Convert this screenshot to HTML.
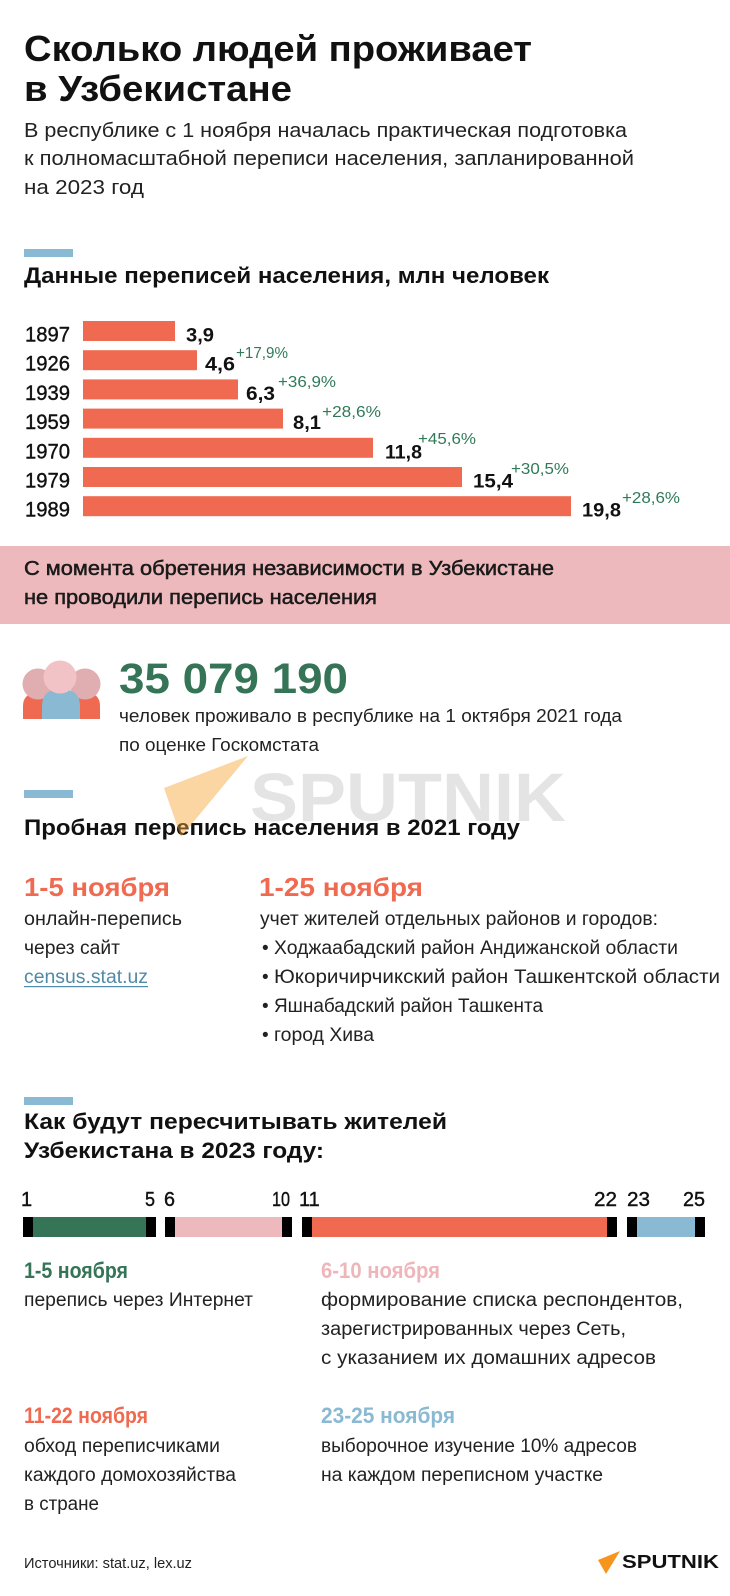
<!DOCTYPE html>
<html><head><meta charset="utf-8">
<style>
html,body{margin:0;padding:0;background:#fff;}
svg{display:block;}
text{font-family:"Liberation Sans",sans-serif;}
</style></head><body>
<svg width="730" height="1596" viewBox="0 0 730 1596" xmlns="http://www.w3.org/2000/svg">
<rect width="730" height="1596" fill="#fff"/>

<!-- Title -->
<text x="24" y="61" font-size="36" font-weight="bold" fill="#111" textLength="508" lengthAdjust="spacingAndGlyphs">Сколько людей проживает</text>
<text x="24" y="101" font-size="36" font-weight="bold" fill="#111" textLength="268" lengthAdjust="spacingAndGlyphs">в Узбекистане</text>

<g font-size="20" fill="#222">
<text x="24" y="137" textLength="603" lengthAdjust="spacingAndGlyphs">В республике с 1 ноября началась практическая подготовка</text>
<text x="24" y="165" textLength="610" lengthAdjust="spacingAndGlyphs">к полномасштабной переписи населения, запланированной</text>
<text x="24" y="194" textLength="120" lengthAdjust="spacingAndGlyphs">на 2023 год</text>
</g>

<!-- Section 1 -->
<rect x="24" y="249" width="49" height="8" fill="#8ab9d3"/>
<text x="24" y="283" font-size="22" font-weight="bold" fill="#111" textLength="525" lengthAdjust="spacingAndGlyphs">Данные переписей населения, млн человек</text>

<g fill="#ef6a50">
<rect x="83" y="321" width="92" height="20"/>
<rect x="83" y="350.2" width="114" height="20"/>
<rect x="83" y="379.4" width="155" height="20"/>
<rect x="83" y="408.6" width="200" height="20"/>
<rect x="83" y="437.8" width="290" height="20"/>
<rect x="83" y="467" width="379" height="20"/>
<rect x="83" y="496.2" width="488" height="20"/>
</g>

<g font-size="21" fill="#111" stroke="#111" stroke-width="0.4">
<text x="25" y="341.5" textLength="45" lengthAdjust="spacingAndGlyphs">1897</text>
<text x="25" y="370.7" textLength="45" lengthAdjust="spacingAndGlyphs">1926</text>
<text x="25" y="399.9" textLength="45" lengthAdjust="spacingAndGlyphs">1939</text>
<text x="25" y="429.1" textLength="45" lengthAdjust="spacingAndGlyphs">1959</text>
<text x="25" y="458.3" textLength="45" lengthAdjust="spacingAndGlyphs">1970</text>
<text x="25" y="487.5" textLength="45" lengthAdjust="spacingAndGlyphs">1979</text>
<text x="25" y="516.7" textLength="45" lengthAdjust="spacingAndGlyphs">1989</text>
</g>

<g font-size="19" font-weight="bold" fill="#111">
<text x="186" y="341.5" textLength="28" lengthAdjust="spacingAndGlyphs">3,9</text>
<text x="205" y="370.7" textLength="30" lengthAdjust="spacingAndGlyphs">4,6</text>
<text x="246" y="399.9" textLength="29" lengthAdjust="spacingAndGlyphs">6,3</text>
<text x="293" y="429.1" textLength="28" lengthAdjust="spacingAndGlyphs">8,1</text>
<text x="385" y="458.3" textLength="37" lengthAdjust="spacingAndGlyphs">11,8</text>
<text x="473" y="487.5" textLength="40" lengthAdjust="spacingAndGlyphs">15,4</text>
<text x="582" y="516.7" textLength="39" lengthAdjust="spacingAndGlyphs">19,8</text>
</g>

<g font-size="16" fill="#2f7a58">
<text x="236" y="358" textLength="52" lengthAdjust="spacingAndGlyphs">+17,9%</text>
<text x="278" y="387" textLength="58" lengthAdjust="spacingAndGlyphs">+36,9%</text>
<text x="322" y="417" textLength="59" lengthAdjust="spacingAndGlyphs">+28,6%</text>
<text x="418" y="444" textLength="58" lengthAdjust="spacingAndGlyphs">+45,6%</text>
<text x="511" y="474" textLength="58" lengthAdjust="spacingAndGlyphs">+30,5%</text>
<text x="622" y="503" textLength="58" lengthAdjust="spacingAndGlyphs">+28,6%</text>
</g>

<!-- Pink band -->
<rect x="0" y="546" width="730" height="78" fill="#edb9bc"/>
<g font-size="20" fill="#1a1a1a" stroke="#1a1a1a" stroke-width="0.5">
<text x="24" y="575" textLength="530" lengthAdjust="spacingAndGlyphs">С момента обретения независимости в Узбекистане</text>
<text x="24" y="604" textLength="353" lengthAdjust="spacingAndGlyphs">не проводили перепись населения</text>
</g>

<!-- People icon -->
<path d="M23 719 L23 706 Q23 693 38 693 L44 693 Q58 693 58 706 L58 719 Z" fill="#ef6a50"/>
<path d="M65 719 L65 706 Q65 693 80 693 L86 693 Q100 693 100 706 L100 719 Z" fill="#ef6a50"/>
<circle cx="38" cy="684" r="15.5" fill="#e0adb1"/>
<circle cx="85" cy="684" r="15.5" fill="#e0adb1"/>
<path d="M42 719 L42 706 Q42 689 61 689 Q80 689 80 706 L80 719 Z" fill="#8ab9d3"/>
<circle cx="60" cy="677" r="16.5" fill="#f2c3c6"/>

<text x="119" y="693" font-size="43" font-weight="bold" fill="#357456" textLength="229" lengthAdjust="spacingAndGlyphs">35 079 190</text>
<g font-size="18" fill="#222">
<text x="119" y="722" textLength="503" lengthAdjust="spacingAndGlyphs">человек проживало в республике на 1 октября 2021 года</text>
<text x="119" y="751" textLength="200" lengthAdjust="spacingAndGlyphs">по оценке Госкомстата</text>
</g>

<!-- Section 2 -->
<rect x="24" y="790" width="49" height="8" fill="#8ab9d3"/>
<text x="24" y="835" font-size="22" font-weight="bold" fill="#111" textLength="496" lengthAdjust="spacingAndGlyphs">Пробная перепись населения в 2021 году</text>

<!-- Watermark -->
<polygon points="164,788 248,756 181,837" fill="#f7a531" opacity="0.45"/>
<text x="250" y="821" font-size="69" font-weight="bold" fill="#000" opacity="0.1" textLength="316" lengthAdjust="spacingAndGlyphs">SPUTNIK</text>

<g font-size="26" font-weight="bold" fill="#ef6a50">
<text x="24" y="896" textLength="146" lengthAdjust="spacingAndGlyphs">1-5 ноября</text>
<text x="259" y="896" textLength="164" lengthAdjust="spacingAndGlyphs">1-25 ноября</text>
</g>
<g font-size="19" fill="#222">
<text x="24" y="925" textLength="158" lengthAdjust="spacingAndGlyphs">онлайн-перепись</text>
<text x="24" y="954" textLength="96" lengthAdjust="spacingAndGlyphs">через сайт</text>
<text x="24" y="983" fill="#4f8aa8" textLength="124" lengthAdjust="spacingAndGlyphs">census.stat.uz</text>
<text x="260" y="925" textLength="398" lengthAdjust="spacingAndGlyphs">учет жителей отдельных районов и городов:</text>
<text x="262" y="954">•</text>
<text x="274" y="954" textLength="404" lengthAdjust="spacingAndGlyphs">Ходжаабадский район Андижанской области</text>
<text x="262" y="983">•</text>
<text x="274" y="983" textLength="446" lengthAdjust="spacingAndGlyphs">Юкоричирчикский район Ташкентской области</text>
<text x="262" y="1012">•</text>
<text x="274" y="1012" textLength="269" lengthAdjust="spacingAndGlyphs">Яшнабадский район Ташкента</text>
<text x="262" y="1041">•</text>
<text x="274" y="1041" textLength="100" lengthAdjust="spacingAndGlyphs">город Хива</text>
</g>
<rect x="24" y="986" width="124" height="1.2" fill="#4f8aa8"/>

<!-- Section 3 -->
<rect x="24" y="1097" width="49" height="8" fill="#8ab9d3"/>
<g font-size="22" font-weight="bold" fill="#111">
<text x="24" y="1129" textLength="423" lengthAdjust="spacingAndGlyphs">Как будут пересчитывать жителей</text>
<text x="24" y="1158" textLength="300" lengthAdjust="spacingAndGlyphs">Узбекистана в 2023 году:</text>
</g>

<g font-size="20" fill="#111" stroke="#111" stroke-width="0.4">
<text x="21" y="1206">1</text>
<text x="145" y="1206" textLength="10" lengthAdjust="spacingAndGlyphs">5</text>
<text x="164" y="1206" textLength="11" lengthAdjust="spacingAndGlyphs">6</text>
<text x="272" y="1206" textLength="18" lengthAdjust="spacingAndGlyphs">10</text>
<text x="299" y="1206">11</text>
<text x="594" y="1206" textLength="23" lengthAdjust="spacingAndGlyphs">22</text>
<text x="627" y="1206" textLength="23" lengthAdjust="spacingAndGlyphs">23</text>
<text x="683" y="1206" textLength="22" lengthAdjust="spacingAndGlyphs">25</text>
</g>

<g>
<rect x="23" y="1217" width="133" height="20" fill="#000"/>
<rect x="33" y="1217" width="113" height="20" fill="#357456"/>
<rect x="165" y="1217" width="127" height="20" fill="#000"/>
<rect x="175" y="1217" width="107" height="20" fill="#eeb9bc"/>
<rect x="302" y="1217" width="315" height="20" fill="#000"/>
<rect x="312" y="1217" width="295" height="20" fill="#ef6a50"/>
<rect x="627" y="1217" width="78" height="20" fill="#000"/>
<rect x="637" y="1217" width="58" height="20" fill="#8ab9d3"/>
</g>

<g font-size="22" font-weight="bold">
<text x="24" y="1278" fill="#357456" textLength="104" lengthAdjust="spacingAndGlyphs">1-5 ноября</text>
<text x="321" y="1278" fill="#eeb6ba" textLength="119" lengthAdjust="spacingAndGlyphs">6-10 ноября</text>
<text x="24" y="1423" fill="#ef6a50" textLength="124" lengthAdjust="spacingAndGlyphs">11-22 ноября</text>
<text x="321" y="1423" fill="#8ab9d3" textLength="134" lengthAdjust="spacingAndGlyphs">23-25 ноября</text>
</g>

<g font-size="19" fill="#222">
<text x="24" y="1306" textLength="229" lengthAdjust="spacingAndGlyphs">перепись через Интернет</text>
<text x="321" y="1306" textLength="362" lengthAdjust="spacingAndGlyphs">формирование списка респондентов,</text>
<text x="321" y="1335" textLength="305" lengthAdjust="spacingAndGlyphs">зарегистрированных через Сеть,</text>
<text x="321" y="1364" textLength="335" lengthAdjust="spacingAndGlyphs">с указанием их домашних адресов</text>
<text x="24" y="1452" textLength="196" lengthAdjust="spacingAndGlyphs">обход переписчиками</text>
<text x="24" y="1481" textLength="212" lengthAdjust="spacingAndGlyphs">каждого домохозяйства</text>
<text x="24" y="1510" textLength="75" lengthAdjust="spacingAndGlyphs">в стране</text>
<text x="321" y="1452" textLength="316" lengthAdjust="spacingAndGlyphs">выборочное изучение 10% адресов</text>
<text x="321" y="1481" textLength="282" lengthAdjust="spacingAndGlyphs">на каждом переписном участке</text>
</g>

<text x="24" y="1568" font-size="15" fill="#222" textLength="168" lengthAdjust="spacingAndGlyphs">Источники: stat.uz, lex.uz</text>

<polygon points="620,1551 598,1560 606,1574" fill="#f7941d"/>
<text x="622" y="1568" font-size="18" font-weight="bold" fill="#111" textLength="97" lengthAdjust="spacingAndGlyphs">SPUTNIK</text>
</svg>
</body></html>
